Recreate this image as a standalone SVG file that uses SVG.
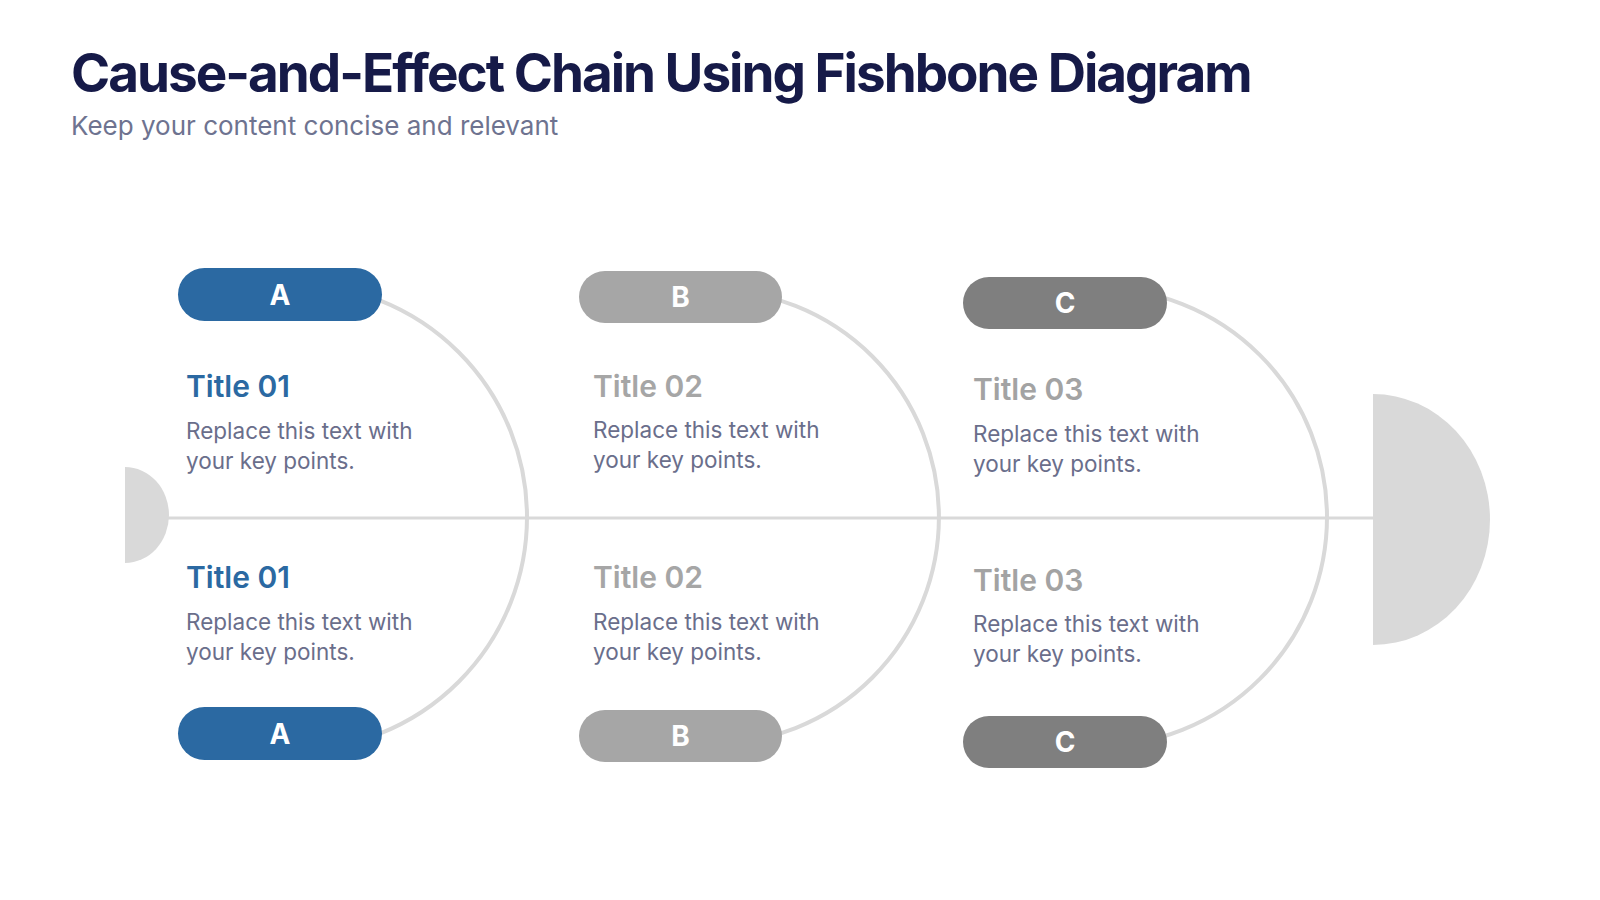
<svg xmlns="http://www.w3.org/2000/svg" width="1600" height="900" viewBox="0 0 1600 900">
  <style>
    text { font-family: Inter, "Liberation Sans", sans-serif; }
    .head { font-size: 53px; font-weight: 700; fill: #161a48; letter-spacing: -2px; }
    .sub { font-size: 26px; font-weight: 400; fill: #6e7390; }
    .bone { fill: none; stroke: #d9d9d9; stroke-width: 4; }
    .spine { fill: none; stroke: #d9d9d9; stroke-width: 3; }
    .cap { fill: #d9d9d9; }
    .pill-lbl { font-size: 28px; font-weight: 700; fill: #ffffff; text-anchor: middle; }
    .ttl { font-size: 30px; font-weight: 600; }
    .body { font-size: 22.5px; font-weight: 400; fill: #6a6e8b; }
    .blue { fill: #2b69a2; }
    .gray1 { fill: #a6a6a6; }
    .gray2 { fill: #7f7f7f; }
    .tgray { fill: #a3a3a3; }
  </style>

  <g id="header">
    <text class="head" x="71" y="92">Cause-and-Effect Chain Using Fishbone Diagram</text>
    <text class="sub" x="71" y="135">Keep your content concise and relevant</text>
  </g>

  <g id="connectors">
    <path class="spine" d="M125,518 H1373"/>
    <path class="bone" d="M294,284 A233,233 0 0 1 294,750"/>
    <path class="bone" d="M712,290 A227,227 0 0 1 712,744"/>
    <path class="bone" d="M1098,288 A229,229 0 0 1 1098,746"/>
  </g>

  <g id="tail">
    <path class="cap" d="M125,467 A44,48 0 0 1 125,563 Z"/>
  </g>
  <g id="head-effect">
    <path class="cap" d="M1373,394 A117,125.5 0 0 1 1373,645 Z"/>
  </g>

  <g id="pill-a-top">
    <rect class="blue" x="178" y="268" width="204" height="53" rx="26.5"/>
    <text class="pill-lbl" x="280" y="304.5">A</text>
  </g>
  <g id="pill-a-bottom">
    <rect class="blue" x="178" y="707" width="204" height="53" rx="26.5"/>
    <text class="pill-lbl" x="280" y="743.5">A</text>
  </g>
  <g id="pill-b-top">
    <rect class="gray1" x="579" y="271" width="203" height="52" rx="26"/>
    <text class="pill-lbl" x="680.5" y="307">B</text>
  </g>
  <g id="pill-b-bottom">
    <rect class="gray1" x="579" y="710" width="203" height="52" rx="26"/>
    <text class="pill-lbl" x="680.5" y="746">B</text>
  </g>
  <g id="pill-c-top">
    <rect class="gray2" x="963" y="277" width="204" height="52" rx="26"/>
    <text class="pill-lbl" x="1065" y="313">C</text>
  </g>
  <g id="pill-c-bottom">
    <rect class="gray2" x="963" y="716" width="204" height="52" rx="26"/>
    <text class="pill-lbl" x="1065" y="752">C</text>
  </g>

  <g id="text-a-top">
    <text class="ttl blue" x="186" y="397">Title 01</text>
    <text class="body" x="186" y="439">Replace this text with</text>
    <text class="body" x="186" y="469">your key points.</text>
  </g>
  <g id="text-a-bottom">
    <text class="ttl blue" x="186" y="588">Title 01</text>
    <text class="body" x="186" y="630">Replace this text with</text>
    <text class="body" x="186" y="660">your key points.</text>
  </g>
  <g id="text-b-top">
    <text class="ttl gray1" x="593" y="397">Title 02</text>
    <text class="body" x="593" y="438">Replace this text with</text>
    <text class="body" x="593" y="468">your key points.</text>
  </g>
  <g id="text-b-bottom">
    <text class="ttl gray1" x="593" y="588">Title 02</text>
    <text class="body" x="593" y="630">Replace this text with</text>
    <text class="body" x="593" y="660">your key points.</text>
  </g>
  <g id="text-c-top">
    <text class="ttl tgray" x="973" y="400">Title 03</text>
    <text class="body" x="973" y="442">Replace this text with</text>
    <text class="body" x="973" y="472">your key points.</text>
  </g>
  <g id="text-c-bottom">
    <text class="ttl tgray" x="973" y="591">Title 03</text>
    <text class="body" x="973" y="632">Replace this text with</text>
    <text class="body" x="973" y="662">your key points.</text>
  </g>
</svg>
